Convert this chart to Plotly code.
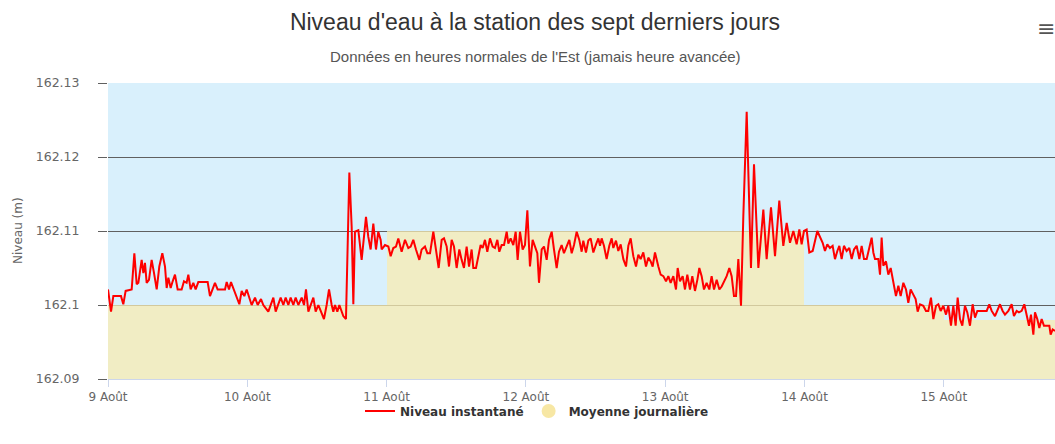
import pandas as pd
import plotly.graph_objects as go

title_text = "Niveau d'eau à la station des sept derniers jours"
subtitle_text = "Données en heures normales de l'Est (jamais heure avancée)"
yaxis_title = "Niveau (m)"
series_line_name = "Niveau instantané"
series_avg_name = "Moyenne journalière"
start_date = "2019-08-09"
end_hours = 163.16

# hours after 9 Août 00:00 and instantaneous water level (m)
hours = [
    0.0, 0.52, 0.92, 2.24, 2.64, 3.04, 4.08, 4.54, 4.94, 5.23, 5.80, 6.09, 6.37, 6.66, 7.06, 7.52,
    7.93, 8.39, 8.84, 9.36, 9.82, 10.11, 10.40, 10.80, 11.14, 11.54, 12.00, 12.69, 13.09, 13.55,
    13.84, 14.24, 14.70, 15.10, 15.56, 17.17, 17.57, 17.97, 18.43, 18.89, 20.16, 20.45, 20.85,
    21.19, 21.59, 22.17, 22.63, 23.03, 23.49, 23.89, 24.29, 24.75, 25.33, 25.79, 26.36, 26.76,
    27.62, 28.03, 28.49, 28.89, 29.35, 29.75, 30.21, 30.61, 31.07, 31.47, 31.93, 32.33, 32.79,
    33.37, 33.77, 34.11, 34.52, 34.98, 35.38, 35.78, 36.24, 36.70, 37.21, 37.67, 38.08, 38.54,
    38.82, 39.11, 39.51, 39.86,
    40.54, 41.00, 41.23, 41.58, 41.98, 42.27, 42.55, 43.13, 43.70, 44.10, 44.45, 44.85, 45.25,
    45.71, 46.17, 46.57, 46.98, 47.15, 47.72, 48.30, 48.70, 49.16, 49.62, 50.02, 50.59, 51.17,
    51.74, 52.15, 52.60, 53.06, 53.64, 54.04, 54.61, 55.02, 55.48, 56.05, 56.51, 56.97, 57.49,
    57.89, 58.35, 58.75, 59.21, 59.61, 60.07, 60.53, 60.93, 61.33, 61.79, 62.20, 62.65, 62.94,
    63.40, 63.80, 64.20, 64.55, 64.95, 65.35, 65.81, 66.27, 66.67, 67.08, 67.42, 67.82, 68.23,
    68.69, 68.97, 69.37, 69.83, 70.24, 70.58, 70.98, 71.44, 71.84, 72.25, 72.70, 73.16, 73.57,
    73.97, 74.26, 74.72, 75.12, 75.58, 75.98, 76.44, 76.84, 77.30, 77.70, 78.16, 78.56, 79.02,
    79.48, 79.89, 80.29, 80.75, 81.20, 81.61,
    81.89, 82.35, 82.76, 83.16, 83.62, 84.08, 84.48, 84.77, 85.05, 85.45, 85.91, 86.37, 86.78,
    87.06, 87.52, 87.92, 88.33, 88.79, 89.25, 89.65, 90.05, 90.51, 90.97, 91.37, 91.77, 92.23,
    92.69, 93.09, 93.50, 93.84, 94.24, 94.82, 95.22, 95.68, 96.14, 96.54, 96.94, 97.40, 97.86,
    98.15, 98.55, 99.01, 99.41, 99.81, 100.27, 100.67, 101.13, 101.54, 101.88, 102.28, 102.68,
    103.14, 103.60, 104.00, 104.41, 104.87, 105.33, 105.73, 106.13, 106.59, 107.05, 107.45,
    107.85, 108.20, 108.60, 109.06, 109.46, 110.04, 110.78, 111.30, 112.05, 112.91, 113.48,
    114.23, 114.92, 115.66, 116.35, 116.93, 117.50, 118.08, 118.65, 119.11, 119.51, 119.91,
    120.37, 120.83, 121.41, 122.21,
    123.13, 123.53, 123.93, 124.39, 124.85, 125.25, 125.66, 126.00, 126.40, 126.80, 127.26,
    127.72, 128.13, 128.53, 128.99, 129.45, 129.85, 130.25, 130.71, 131.17, 131.57, 131.86,
    132.15, 132.72, 133.01, 133.29, 133.58, 134.04, 134.44, 134.85, 135.30, 135.76, 136.17,
    136.57, 137.03, 137.49, 137.89, 138.29, 138.75, 139.15, 139.50, 139.90, 140.47, 140.93,
    141.33, 141.79, 142.20, 142.66, 143.06, 143.46, 143.92, 144.38, 144.78, 145.24, 145.64,
    146.04, 146.39, 146.79, 147.19, 147.65, 148.05, 148.51, 148.97, 149.38, 149.78, 150.24,
    151.39, 151.84, 152.25, 152.82, 153.22, 153.68, 154.14, 154.54, 155.12, 155.69, 156.09,
    156.55, 156.95, 157.42, 157.87, 158.28, 158.68, 159.02, 159.43, 159.71, 160.11, 160.46,
    160.86, 161.26, 161.72, 162.18, 162.41, 162.76, 163.16,
]
niveau = [
    162.1021, 162.0991, 162.1012, 162.1012, 162.1001, 162.1019, 162.1021, 162.1070, 162.1028,
    162.1030, 162.1061, 162.1043, 162.1057, 162.1030, 162.1034, 162.1061, 162.1043, 162.1021,
    162.1052, 162.1070, 162.1052, 162.1023, 162.1037, 162.1023, 162.1032, 162.1041, 162.1021,
    162.1021, 162.1032, 162.1030, 162.1041, 162.1021, 162.1030, 162.1021, 162.1031, 162.1031,
    162.1012, 162.1021, 162.1030, 162.1021, 162.1021, 162.1031, 162.1021, 162.1031, 162.1023,
    162.1012, 162.1001, 162.1019, 162.1012, 162.1021, 162.1010, 162.1000, 162.1010, 162.1000,
    162.1008, 162.1000, 162.0991, 162.1000, 162.1010, 162.0991, 162.1000, 162.1010, 162.1000,
    162.1010, 162.1000, 162.1010, 162.1000, 162.1010, 162.1000, 162.1010, 162.1000, 162.1021,
    162.0991, 162.1000, 162.1010, 162.0991, 162.1000, 162.0991, 162.0981, 162.1000, 162.1021,
    162.1000, 162.0991, 162.1000, 162.0991, 162.1000,
    162.0985, 162.0981, 162.1061, 162.1179, 162.1106, 162.1001, 162.1099, 162.1101, 162.1061,
    162.1097, 162.1119, 162.1092, 162.1075, 162.1110, 162.1075, 162.1099, 162.1088, 162.1075,
    162.1081, 162.1079, 162.1066, 162.1077, 162.1079, 162.1090, 162.1072, 162.1088, 162.1077,
    162.1079, 162.1088, 162.1075, 162.1061, 162.1075, 162.1079, 162.1070, 162.1070, 162.1099,
    162.1075, 162.1050, 162.1088, 162.1090, 162.1079, 162.1052, 162.1088, 162.1079, 162.1050,
    162.1075, 162.1061, 162.1050, 162.1079, 162.1052, 162.1075, 162.1050, 162.1050, 162.1066,
    162.1081, 162.1077, 162.1088, 162.1072, 162.1090, 162.1079, 162.1077, 162.1088, 162.1072,
    162.1081, 162.1081, 162.1099, 162.1083, 162.1090, 162.1081, 162.1099, 162.1061, 162.1099,
    162.1075, 162.1081, 162.1128, 162.1052, 162.1088, 162.1079, 162.1070, 162.1030, 162.1075,
    162.1079, 162.1061, 162.1088, 162.1099, 162.1075, 162.1050, 162.1072, 162.1081, 162.1070,
    162.1079, 162.1088, 162.1070, 162.1081, 162.1099, 162.1088, 162.1072,
    162.1087, 162.1071, 162.1087, 162.1090, 162.1071, 162.1082, 162.1090, 162.1080, 162.1090,
    162.1080, 162.1062, 162.1080, 162.1090, 162.1077, 162.1087, 162.1073, 162.1082, 162.1062,
    162.1052, 162.1080, 162.1090, 162.1066, 162.1052, 162.1068, 162.1062, 162.1071, 162.1052,
    162.1064, 162.1059, 162.1052, 162.1071, 162.1052, 162.1041, 162.1039, 162.1032, 162.1039,
    162.1030, 162.1039, 162.1021, 162.1050, 162.1032, 162.1039, 162.1021, 162.1041, 162.1021,
    162.1039, 162.1019, 162.1034, 162.1050, 162.1039, 162.1021, 162.1030, 162.1021, 162.1039,
    162.1021, 162.1034, 162.1021, 162.1025, 162.1032, 162.1039, 162.1050, 162.1039, 162.1012,
    162.1012, 162.1062, 162.0999, 162.1120, 162.1261, 162.1050, 162.1190, 162.1050, 162.1129,
    162.1062, 162.1132, 162.1066, 162.1141, 162.1080, 162.1111, 162.1084, 162.1100, 162.1082,
    162.1102, 162.1082, 162.1100, 162.1102, 162.1071, 162.1073, 162.1100,
    162.1084, 162.1073, 162.1082, 162.1077, 162.1080, 162.1062, 162.1073, 162.1080, 162.1062,
    162.1080, 162.1073, 162.1077, 162.1062, 162.1075, 162.1080, 162.1062, 162.1080, 162.1062,
    162.1062, 162.1080, 162.1091, 162.1071, 162.1062, 162.1062, 162.1041, 162.1091, 162.1053,
    162.1059, 162.1041, 162.1050, 162.1032, 162.1012, 162.1026, 162.1012, 162.1030, 162.1021,
    162.1003, 162.1021, 162.1014, 162.1008, 162.0991, 162.1001, 162.0999, 162.0992, 162.0992,
    162.1010, 162.0981, 162.0999, 162.1001, 162.0992, 162.0999, 162.0987, 162.0999, 162.0972,
    162.0999, 162.0972, 162.1010, 162.0981, 162.0972, 162.0999, 162.0990, 162.0972, 162.1001,
    162.0983, 162.0992, 162.0992, 162.0992, 162.1001, 162.0992, 162.0985, 162.0992, 162.1001,
    162.0992, 162.0987, 162.0992, 162.1001, 162.0985, 162.0992, 162.0990, 162.0992, 162.1001,
    162.0987, 162.0972, 162.0987, 162.0960, 162.0990, 162.0981, 162.0969, 162.0981, 162.0972,
    162.0972, 162.0972, 162.0960, 162.0967, 162.0965,
]

day_labels = ["9 Août", "10 Août", "11 Août", "12 Août", "13 Août", "14 Août", "15 Août"]
moyenne = [162.100, 162.100, 162.110, 162.110, 162.110, 162.100, 162.098]

y_min, y_max = 162.09, 162.13
y_tickvals = [162.09, 162.10, 162.11, 162.12, 162.13]
y_ticktext = ["162.09", "162.1", "162.11", "162.12", "162.13"]

t0 = pd.Timestamp(start_date)
times = [t0 + pd.Timedelta(hours=h) for h in hours]
days = [t0 + pd.Timedelta(days=i) for i in range(len(day_labels))]
day_mid = [d + pd.Timedelta(hours=12) for d in days]
t_end = t0 + pd.Timedelta(hours=end_hours)

TXT = "#666666"
FONT = "DejaVu Sans"
TFONT = "Liberation Sans, Arial, sans-serif"
W, H = 1055, 444

fig = go.Figure()
fig.add_trace(go.Bar(
    x=day_mid, y=[m - y_min for m in moyenne], base=y_min,
    width=24 * 3600 * 1000,
    marker=dict(color="rgba(248,236,177,0.75)", line=dict(width=0)),
    name=series_avg_name, showlegend=False, hoverinfo="skip",
))
fig.add_trace(go.Scatter(
    x=times, y=niveau, mode="lines", name=series_line_name,
    line=dict(color="#ff0000", width=2),
))
fig.add_trace(go.Scatter(
    x=[None], y=[None], mode="markers", name=series_avg_name,
    marker=dict(color="#f7e7a4", size=14, symbol="circle"),
))

fig.update_layout(
    width=W, height=H, autosize=False,
    margin=dict(l=108, r=0, t=83, b=65, autoexpand=False),
    paper_bgcolor="white",
    plot_bgcolor="#d9f0fc",
    bargap=0,
    title=dict(
        text=title_text, x=535 / W, xanchor="center", xref="container",
        y=1 - 22 / H, yanchor="middle", yref="container",
        font=dict(family=TFONT, size=23, color="#333333"),
    ),
    legend=dict(
        orientation="h", x=537 / W, xanchor="center", xref="container",
        y=(H - 411) / H, yanchor="middle", yref="container",
        font=dict(family=FONT, size=12, color="#333333", weight="bold"),
        itemwidth=30, bgcolor="rgba(0,0,0,0)",
    ),
    xaxis=dict(
        range=[t0, t_end], tickvals=days, ticktext=day_labels,
        showgrid=False, showline=True, linecolor="#ccd6eb", linewidth=1,
        ticks="outside", ticklen=7, tickcolor="#ccd6eb",
        tickfont=dict(family=FONT, size=12, color=TXT),
        zeroline=False,
    ),
    yaxis=dict(
        range=[y_min, y_max], tickvals=y_tickvals, ticktext=y_ticktext,
        showgrid=True, gridcolor="#606060", gridwidth=1,
        ticks="outside", ticklen=9, tickcolor="#606060",
        ticklabelstandoff=16,
        tickfont=dict(family=FONT, size=12.5, color=TXT),
        showline=False, zeroline=False,
    ),
    annotations=[
        dict(text=subtitle_text, xref="paper", yref="paper",
             x=(535 - 108) / 947, y=1 + (83 - 56) / 296, xanchor="center", yanchor="middle",
             showarrow=False,
             font=dict(family=TFONT, size=15, color="#555555")),
        dict(text=yaxis_title, xref="paper", yref="paper",
             x=(18 - 108) / 947, y=0.5, xanchor="center", yanchor="middle",
             textangle=-90, showarrow=False,
             font=dict(family=FONT, size=12, color=TXT)),
        dict(text="≡", xref="paper", yref="paper",
             x=(1046 - 108) / 947, y=1 + (83 - 28) / 296, xanchor="center", yanchor="middle",
             showarrow=False, font=dict(family=FONT, size=22, color="#555555")),
    ],
)

post = (
    "document.documentElement.style.margin='0';"
    "document.body.style.margin='0';"
    "document.body.style.overflow='hidden';"
)

fig.write_html("out.html", config={"displayModeBar": False}, post_script=post)
